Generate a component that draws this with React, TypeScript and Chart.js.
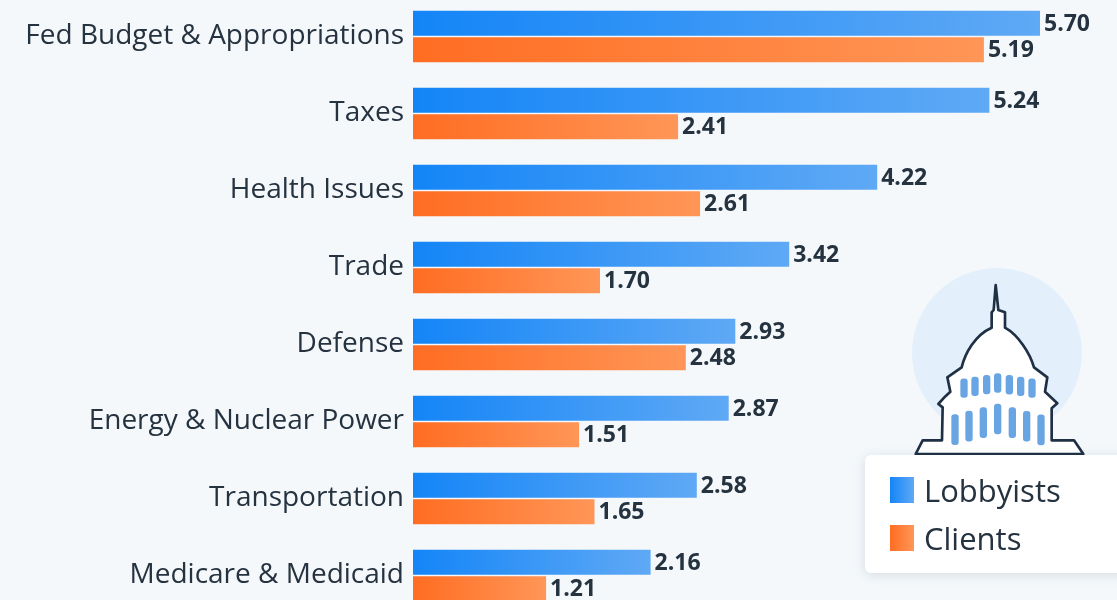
import React, { useEffect, useRef } from "react";
import { Chart, registerables } from "chart.js";

Chart.register(...registerables);

const categories = [
  "Fed Budget & Appropriations",
  "Taxes",
  "Health Issues",
  "Trade",
  "Defense",
  "Energy & Nuclear Power",
  "Transportation",
  "Medicare & Medicaid",
];
const lobbyists = [5.7, 5.24, 4.22, 3.42, 2.93, 2.87, 2.58, 2.16];
const clients = [5.19, 2.41, 2.61, 1.7, 2.48, 1.51, 1.65, 1.21];

const FONT = '"Open Sans", sans-serif';
const TEXT = "#25323f";
const BG = "#f4f8fb";
const BLUE: [string, string] = ["#1485f7", "#5fa9f5"];
const ORANGE: [string, string] = ["#ff6d22", "#ff9657"];

const seriesGradient = (stops: [string, string]) => (ctx: any) => {
  const { chart, raw } = ctx;
  const x = chart.scales?.x;
  if (!x || typeof raw !== "number") return stops[0];
  const x0 = x.getPixelForValue(0);
  const x1 = x.getPixelForValue(raw);
  if (!Number.isFinite(x0) || !Number.isFinite(x1) || x1 === x0) return stops[0];
  const g = chart.ctx.createLinearGradient(x0, 0, x1, 0);
  g.addColorStop(0, stops[0]);
  g.addColorStop(1, stops[1]);
  return g;
};

const valueLabels = {
  id: "valueLabels",
  afterDatasetsDraw(chart: any) {
    const { ctx } = chart;
    ctx.save();
    ctx.font = `700 23px ${FONT}`;
    ctx.fillStyle = TEXT;
    ctx.textAlign = "left";
    ctx.textBaseline = "middle";
    chart.data.datasets.forEach((ds: any, i: number) => {
      chart.getDatasetMeta(i).data.forEach((bar: any, j: number) => {
        ctx.fillText(ds.data[j].toFixed(2), bar.x + 4, bar.y + 1);
      });
    });
    ctx.restore();
  },
};

const upperWindows = [342, 375, 410, 443, 478, 512, 546];
const lowerWindows = [315, 357, 400, 443, 487, 530, 573];

function Capitol() {
  return (
    <svg viewBox="0 0 801 1020" width={267} height={340} style={{ position: "absolute", left: 850, top: 260 }}>
      <circle cx={441} cy={279} r={255} fill="#e3effb" />
      <path
        d="M197 582 L218 541 L276 541 L278 442 L265 432 L285 410 L301 395 L292 352 L335 322 C345 280 375 225 425 203 L425 157 L431 150 L437 75 L445 150 L465 157 L465 203 C505 225 540 280 552 322 L592 352 L585 395 L622 430 L605 445 L605 541 L672 541 L700 582 Z"
        fill="#fff"
        stroke="#1f3044"
        strokeWidth={8}
        strokeLinejoin="round"
      />
      {upperWindows.map((x) => (
        <rect key={x} x={x - 11} y={340 + Math.abs(x - 443) * 0.15} width={22} height={58} rx={9} fill="#6aa5e3" />
      ))}
      {lowerWindows.map((x) => (
        <rect key={x} x={x - 11} y={431 + Math.abs(x - 443) * 0.25} width={22} height={92} rx={9} fill="#6aa5e3" />
      ))}
    </svg>
  );
}

function Legend() {
  const items: [string, [string, string]][] = [
    ["Lobbyists", BLUE],
    ["Clients", ORANGE],
  ];
  return (
    <div
      style={{
        position: "absolute",
        left: 865,
        top: 455,
        width: 290,
        height: 118,
        background: "#fff",
        borderRadius: 6,
        boxShadow: "0 2px 12px rgba(60,80,100,0.16)",
      }}
    >
      {items.map(([name, c], i) => (
        <div key={name} style={{ position: "absolute", left: 25, top: 22 + i * 48, display: "flex", alignItems: "center", height: 26 }}>
          <span style={{ width: 24, height: 26, background: `linear-gradient(90deg, ${c[0]}, ${c[1]})`, display: "block" }} />
          <span style={{ marginLeft: 10, fontFamily: FONT, fontSize: 31, color: TEXT, lineHeight: "26px" }}>{name}</span>
        </div>
      ))}
    </div>
  );
}

export default function App() {
  const ref = useRef<HTMLCanvasElement | null>(null);

  useEffect(() => {
    document.body.style.margin = "0";
    document.body.style.background = BG;
    const chart = new Chart(ref.current!, {
      type: "bar",
      data: {
        labels: categories,
        datasets: [
          { label: "Lobbyists", data: lobbyists, backgroundColor: seriesGradient(BLUE) },
          { label: "Clients", data: clients, backgroundColor: seriesGradient(ORANGE) },
        ],
      },
      options: {
        indexAxis: "y",
        responsive: false,
        animation: false,
        layout: { padding: 0 },
        datasets: { bar: { categoryPercentage: 0.688, barPercentage: 0.943 } },
        plugins: { legend: { display: false }, tooltip: { enabled: false } },
        scales: {
          x: { display: false, min: 0, max: 6.4 },
          y: {
            afterFit: (scale: any) => {
              scale.width = 413;
              scale.paddingTop = 0;
              scale.paddingBottom = 0;
            },
            grid: { display: false, drawTicks: false },
            border: { display: false },
            ticks: { padding: 9, color: TEXT, font: { family: FONT, size: 28 }, autoSkip: false },
          },
        },
      },
      plugins: [valueLabels],
    } as any);
    return () => chart.destroy();
  }, []);

  return (
    <div style={{ position: "relative", width: 1117, height: 600, overflow: "hidden", background: BG }}>
      <div style={{ position: "absolute", inset: 0, filter: "blur(0.7px)" }}>
        <canvas ref={ref} width={1117} height={616} style={{ position: "absolute", left: 0, top: -2.5, display: "block" }} />
        <Capitol />
        <Legend />
      </div>
    </div>
  );
}
